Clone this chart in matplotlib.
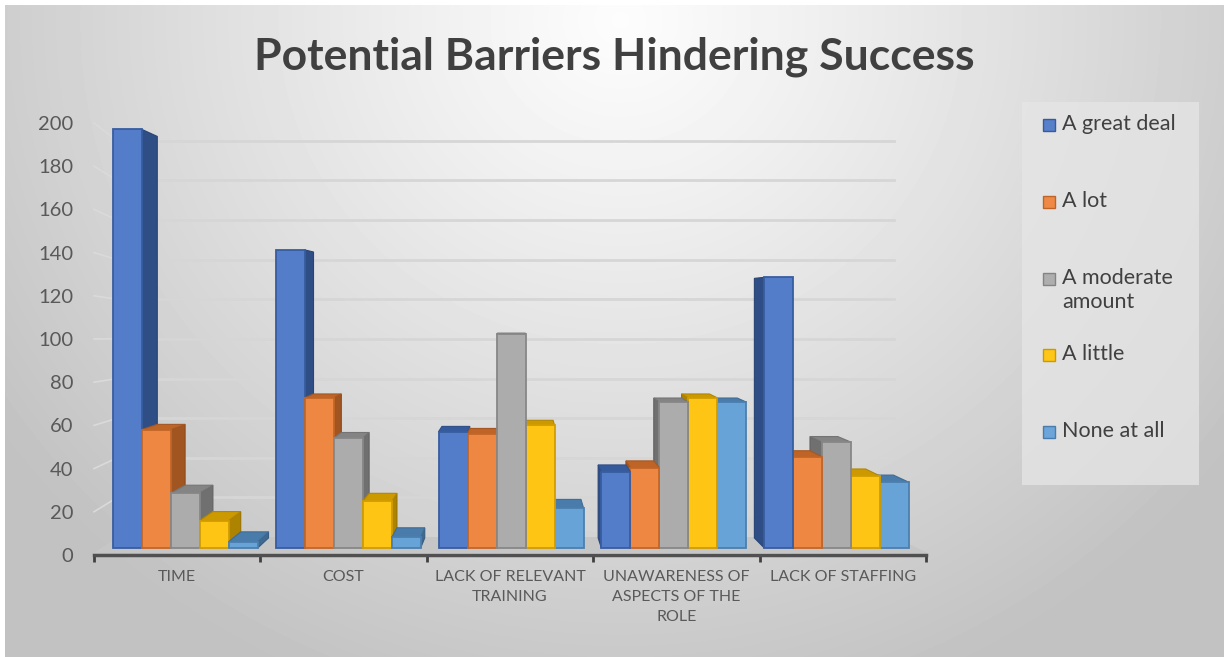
import numpy as np
import matplotlib.pyplot as plt
from matplotlib.patches import Polygon, Rectangle
from matplotlib.colors import to_rgb

plt.rcParams['font.family'] = ['Lato', 'DejaVu Sans']

categories = ['TIME', 'COST', 'LACK OF RELEVANT\nTRAINING',
              'UNAWARENESS OF\nASPECTS OF THE\nROLE', 'LACK OF STAFFING']
series_names = ['A great deal', 'A lot', 'A moderate\namount', 'A little', 'None at all']
great_deal = [198, 141, 55, 36, 128]
a_lot = [56, 71, 54, 38, 43]
moderate = [26, 52, 101, 69, 50]
a_little = [13, 22, 58, 71, 34]
none_at_all = [3, 5, 19, 69, 31]
series_values = [great_deal, a_lot, moderate, a_little, none_at_all]
series_colors = ['#4472C4', '#ED7D31', '#A5A5A5', '#FFC000', '#5B9BD5']
y_ticks = list(range(0, 201, 20))


def shade(c, f):
    r = np.array(to_rgb(c))
    if f >= 1:
        return tuple(r + (1 - r) * (f - 1))
    return tuple(r * f)


W, H = 1224, 657
fig = plt.figure(figsize=(W / 100, H / 100), dpi=100)

# background gradient (white top centre -> grey edges)
bg = fig.add_axes([0, 0, 1, 1])
bg.axis('off')
yy, xx = np.mgrid[0:H, 0:W]
d = np.sqrt(((xx - 620) / 760) ** 2 + ((yy - 20) / 720) ** 2)
t = np.clip(d, 0, 1) ** 1.1
img = 0.99 * (1 - t) + 0.76 * t
img[:5, :] = 1.0
img[:, :5] = 1.0
bg.imshow(img, cmap='gray', vmin=0, vmax=1, extent=[0, W, H, 0], aspect='auto')
bg.set_xlim(0, W)
bg.set_ylim(H, 0)

bg.text(614, 57, 'Potential Barriers Hindering Success', ha='center', va='center',
        fontsize=32, fontweight='bold', color='#404040')

# legend box
bg.add_patch(Rectangle((1022, 102), 177, 383, facecolor='#e6e6e6', alpha=0.75, edgecolor='none'))
for k, (name, col) in enumerate(zip(series_names, series_colors)):
    yc = 125 + 76.75 * k
    bg.add_patch(Rectangle((1043, yc - 6), 12, 12, facecolor=shade(col, 1.1),
                           edgecolor=shade(col, 0.8), lw=1))
    bg.text(1062, yc - 11, name, va='top', ha='left', fontsize=15.5,
            color='#404040', linespacing=1.3)

# main axes: front plane of the 3D box
ax = fig.add_axes([94 / W, (H - 555) / H, 832 / W, 432 / H])
ax.set_xlim(-0.5, 4.5)
ax.set_ylim(0, 200)
ax.patch.set_alpha(0)
x = np.arange(len(categories))

# bar front faces sit slightly behind the axis plane
vx, vy, s1 = 2.29, 154, 0.979
# depth of each bar (back face) seen towards this point
vx2, vy2, r = 2.07, 117, 0.959
bw = 0.178


def back(px, py):
    return (vx2 + r * (px - vx2), vy2 + r * (py - vy2))


# back wall and side wall gridlines
for g in y_ticks[1:]:
    yw = 8.33 + 0.917 * g
    ax.plot([-0.36, 4.31], [yw, yw], color='#d6d6d6', lw=2, zorder=1, clip_on=False)
    ax.plot([-0.5, -0.36], [g, yw], color='#dadada', lw=1.2, zorder=1, clip_on=False)

# floor
ax.add_patch(Polygon([(-0.5, 0.93), (4.51, 0.93), (4.31, 8.33), (-0.36, 8.33)],
                     closed=True, facecolor='#c6c6c6', edgecolor='none', zorder=2, clip_on=False))

# bars
for j, (vals, col) in enumerate(zip(series_values, series_colors)):
    xs = x + (j - 2) * bw
    fx = vx + s1 * (xs - vx)
    base = vy * (1 - s1)
    bars = ax.bar(fx, s1 * np.array(vals), width=s1 * bw, bottom=base,
                  color=shade(col, 1.08), edgecolor=shade(col, 0.82), linewidth=1.3)
    for i, (patch, v) in enumerate(zip(bars, vals)):
        x0 = fx[i] - s1 * bw / 2
        x1 = fx[i] + s1 * bw / 2
        top_y = base + s1 * v
        z = 10 - abs(fx[i] - vx2)
        patch.set_zorder(z)
        side_x = None
        if x0 > vx2:
            side_x = x0
        elif x1 < vx2:
            side_x = x1
        if side_x is not None:
            side = [(side_x, base), (side_x, top_y), back(side_x, top_y), back(side_x, base)]
            ax.add_patch(Polygon(side, closed=True, facecolor=shade(col, 0.68),
                                 edgecolor=shade(col, 0.6), lw=0.8, zorder=z - 0.01))
        if top_y < vy2:
            top = [(x0, top_y), (x1, top_y), back(x1, top_y), back(x0, top_y)]
            ax.add_patch(Polygon(top, closed=True, facecolor=shade(col, 0.8),
                                 edgecolor=shade(col, 0.7), lw=0.8, zorder=z - 0.01))

# axes styling
for sp in ['left', 'right', 'top']:
    ax.spines[sp].set_visible(False)
ax.spines['bottom'].set_color('#505050')
ax.spines['bottom'].set_linewidth(2.5)
ax.spines['bottom'].set_zorder(3)
ax.set_xticks(np.arange(-0.5, len(categories)), labels=[])
ax.tick_params(axis='x', which='major', length=5, width=2, color='#404040', direction='out')
ax.set_xticks(x, labels=categories, minor=True)
ax.tick_params(axis='x', which='minor', length=0, pad=11, labelsize=11.5, labelcolor='#595959')
for lbl in ax.get_xticklabels(minor=True):
    lbl.set_linespacing(1.55)
ax.set_yticks(y_ticks)
ax.tick_params(axis='y', length=0, pad=15, labelsize=14.5, labelcolor='#595959')

fig.savefig('out.png', dpi=100)
